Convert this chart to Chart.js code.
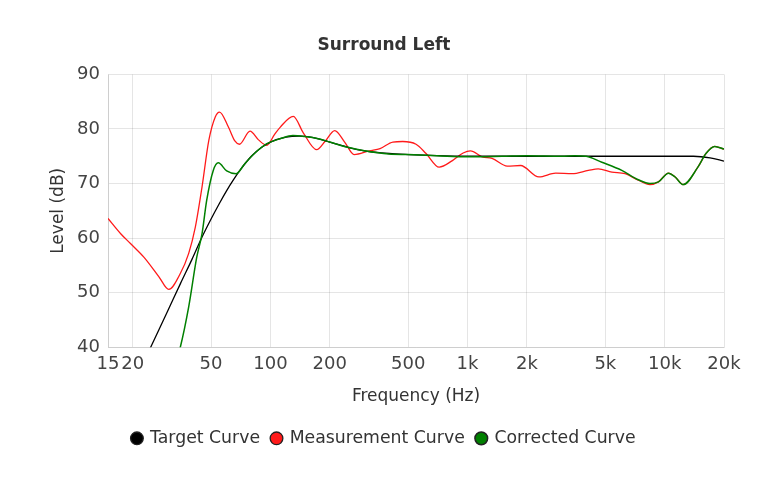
<!DOCTYPE html>
<html>
<head>
<meta charset="utf-8">
<script src="https://cdn.jsdelivr.net/npm/chart.js@4/dist/chart.umd.min.js"></script>
<style>
  html, body { margin: 0; padding: 0; background: #fff; }
  #wrap { width: 778px; height: 482px; }
</style>
</head>
<body>
<div id="wrap"><canvas id="eq-chart"></canvas></div>
<script>
// Frequency ticks shown on the x axis
const tickFreqs = [15, 20, 50, 100, 200, 500, 1000, 2000, 5000, 10000, 20000];

// Target curve
const targetFreq = [15, 20, 25, 30, 35, 40, 45, 50, 55, 60, 65, 70, 80, 90, 100, 120, 140, 160, 200, 250, 300, 400, 500, 700, 1000, 2000, 5000, 10000, 14000, 17000, 20000];
const targetLevel = [23.3, 32.9, 40.4, 46.5, 51.7, 56.1, 60.2, 63.5, 66.3, 68.7, 70.7, 72.4, 75.0, 76.6, 77.6, 78.5, 78.7, 78.5, 77.6, 76.6, 76.0, 75.5, 75.3, 75.1, 75.0, 75.0, 75.0, 75.0, 75.0, 74.7, 74.1];

// Measurement curve
const measFreq = [15, 17.4, 19.5, 22.8, 27.2, 30.5, 34.9, 38.5, 41.6, 45, 48.7, 52.5, 55.2, 61.3, 66, 69.6, 78.8, 87, 95.8, 105, 112, 130.6, 146.8, 171.6, 190, 212, 238, 266, 318, 360, 418, 469, 548, 616, 718, 838, 950, 1035, 1186, 1332, 1590, 1858, 2300, 2800, 3390, 4100, 4600, 5400, 6300, 7350, 8420, 9300, 10460, 11300, 12420, 14740, 16200, 17940, 20000];
const measLevel = [63.6, 60.8, 59.0, 56.5, 52.9, 50.6, 53.5, 57.2, 62.0, 69.4, 77.9, 82.2, 83.1, 80.3, 77.8, 77.2, 79.6, 78.0, 77.0, 79.0, 80.3, 82.3, 79.3, 76.2, 77.8, 79.7, 77.6, 75.3, 76.0, 76.4, 77.6, 77.7, 77.2, 75.5, 73.0, 74.2, 75.6, 76.0, 74.9, 74.6, 73.2, 73.3, 71.2, 71.9, 71.8, 72.4, 72.7, 72.1, 71.8, 70.6, 69.8, 70.3, 71.9, 71.2, 69.8, 73.0, 75.5, 76.8, 76.3];

// Corrected curve
const corrFreq = [30, 34.9, 38.5, 42.3, 45, 47.5, 51.3, 54.4, 60, 67, 74, 83, 96, 112, 130, 150, 175, 200, 250, 300, 400, 500, 700, 1000, 1500, 2000, 3000, 3500, 4000, 4800, 6060, 7350, 8420, 9300, 10460, 11300, 12420, 14740, 16200, 17940, 20000];
const corrLevel = [32.0, 40.0, 47.4, 56.5, 60.8, 66.9, 72.4, 73.8, 72.3, 71.8, 73.6, 75.5, 77.3, 78.2, 78.8, 78.6, 78.2, 77.6, 76.6, 76.0, 75.4, 75.3, 75.1, 74.9, 75.0, 75.1, 75.0, 75.1, 75.0, 73.9, 72.4, 70.7, 70.0, 70.3, 71.9, 71.2, 69.8, 73.0, 75.5, 76.8, 76.3];

function toPoints(freqs, levels) {
    return freqs.map((f, i) => ({ x: f, y: levels[i] }));
}

function fmtFreq(v) {
    return v >= 1000 ? (v / 1000) + 'k' : String(v);
}

Chart.defaults.font.family = "'DejaVu Sans', Verdana, sans-serif";
Chart.defaults.color = '#444';

const ctx = document.getElementById('eq-chart').getContext('2d');
window.eqChart = new Chart(ctx, {
    type: 'line',
    data: {
        datasets: [{
            label: 'Target Curve',
            data: toPoints(targetFreq, targetLevel),
            borderColor: '#000',
            backgroundColor: '#000',
            pointBackgroundColor: '#000',
            pointBorderColor: '#222',
            borderWidth: 1.3,
            order: 1
        }, {
            label: 'Measurement Curve',
            data: toPoints(measFreq, measLevel),
            borderColor: '#ff1a1a',
            backgroundColor: '#ff1a1a',
            pointBackgroundColor: '#ff1a1a',
            pointBorderColor: '#222',
            borderWidth: 1.3,
            order: 2
        }, {
            label: 'Corrected Curve',
            data: toPoints(corrFreq, corrLevel),
            borderColor: '#008000',
            backgroundColor: '#008000',
            pointBackgroundColor: '#008000',
            pointBorderColor: '#222',
            borderWidth: 1.5,
            order: 0
        }]
    },
    options: {
        responsive: true,
        maintainAspectRatio: false,
        animation: false,
        cubicInterpolationMode: 'monotone',
        elements: { point: { radius: 0 } },
        layout: { padding: { top: 35, right: 54, bottom: 25, left: 44 } },
        plugins: {
            title: {
                display: true,
                text: 'Surround Left',
                color: '#333',
                font: { size: 17, weight: 'bold' },
                padding: { top: 0, bottom: 19 }
            },
            legend: {
                position: 'bottom',
                labels: {
                    usePointStyle: true,
                    pointStyle: 'circle',
                    boxWidth: 9,
                    boxHeight: 9,
                    padding: 12,
                    color: '#333',
                    font: { size: 17.3 },
                    sort: (a, b) => a.datasetIndex - b.datasetIndex
                }
            },
            tooltip: { enabled: false }
        },
        scales: {
            x: {
                type: 'logarithmic',
                min: 15,
                max: 20000,
                afterBuildTicks: function(axis) {
                    axis.ticks = tickFreqs.map(v => ({ value: v }));
                },
                ticks: {
                    autoSkip: false,
                    maxRotation: 0,
                    padding: 6,
                    color: '#444',
                    font: { size: 18 },
                    callback: (v) => fmtFreq(v)
                },
                grid: { color: 'rgba(0,0,0,0.1)', drawTicks: false },
                title: {
                    display: true,
                    text: 'Frequency (Hz)',
                    color: '#333',
                    font: { size: 17 },
                    padding: { top: 6, bottom: 10.5 }
                }
            },
            y: {
                min: 40,
                max: 90,
                afterFit: function(axis) { axis.width = 64; },
                ticks: {
                    stepSize: 10,
                    padding: 8,
                    color: '#444',
                    font: { size: 18 }
                },
                grid: { color: 'rgba(0,0,0,0.1)', drawTicks: false },
                title: {
                    display: true,
                    text: 'Level (dB)',
                    color: '#333',
                    font: { size: 17 }
                }
            }
        }
    }
});
</script>
</body>
</html>
